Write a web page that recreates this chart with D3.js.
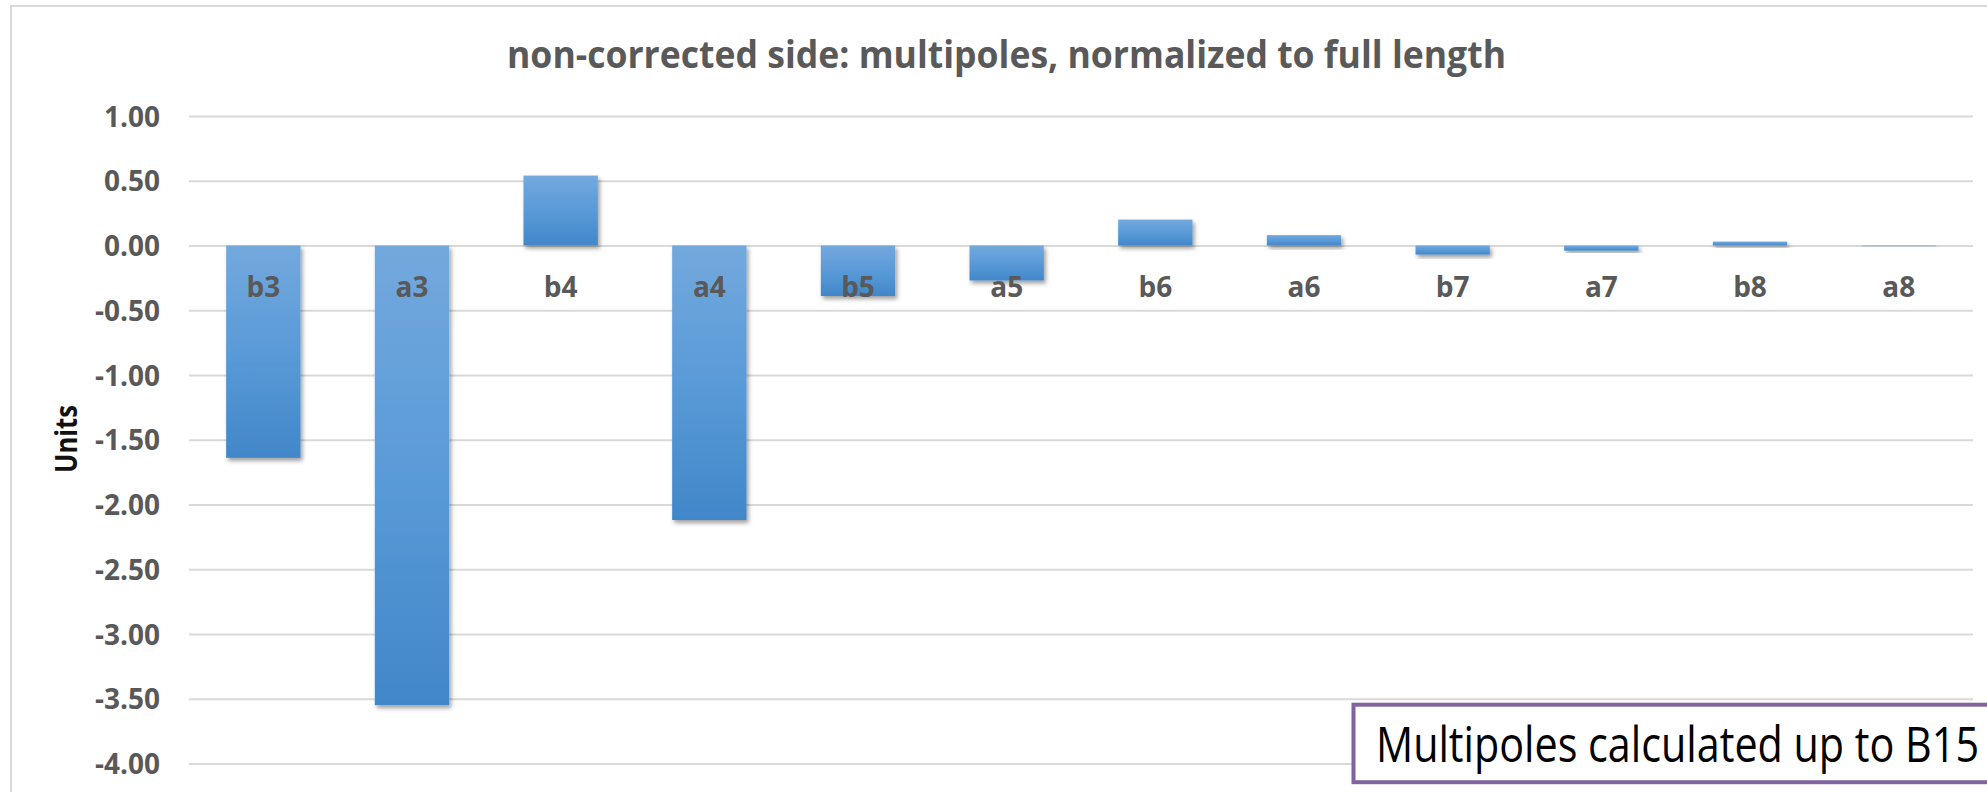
<!DOCTYPE html>
<html>
<head>
<meta charset="utf-8">
<script src="https://cdn.jsdelivr.net/npm/d3@7/dist/d3.min.js"></script>
<style>
  html, body { margin: 0; padding: 0; background: #ffffff; }
  svg { display: block; }
</style>
</head>
<body>
<svg id="chart" width="1987" height="792"></svg>
<script>
// Multipole coefficients (units), non-corrected side
const categories = ["b3", "a3", "b4", "a4", "b5", "a5", "b6", "a6", "b7", "a7", "b8", "a8"];
const values     = [-1.64, -3.55, 0.54, -2.12, -0.39, -0.27, 0.20, 0.08, -0.07, -0.04, 0.03, -0.005];
const yTicks     = [1.00, 0.50, 0.00, -0.50, -1.00, -1.50, -2.00, -2.50, -3.00, -3.50, -4.00];
const yDomain    = [-4, 1];

const titleText = "non-corrected side: multipoles, normalized to full length";
const yAxisTitle = "Units";
const noteText = "Multipoles calculated up to B15";

const W = 1987, H = 792;
const plot = { left: 189, right: 1973, top: 116, bottom: 763.4 };

const svg = d3.select("#chart");

const defs = svg.append("defs");
const grad = defs.append("linearGradient")
  .attr("id", "barFill").attr("x1", 0).attr("y1", 0).attr("x2", 0).attr("y2", 1);
grad.append("stop").attr("offset", "0%").attr("stop-color", "#73a9dd");
grad.append("stop").attr("offset", "50%").attr("stop-color", "#5a9ad8");
grad.append("stop").attr("offset", "100%").attr("stop-color", "#4187c9");

const shadow = defs.append("filter").attr("id", "barShadow")
  .attr("x", "-20%").attr("y", "-20%").attr("width", "140%").attr("height", "160%");
shadow.append("feDropShadow")
  .attr("dx", 2).attr("dy", 3).attr("stdDeviation", 2.2)
  .attr("flood-color", "#000").attr("flood-opacity", 0.38);

// chart frame
svg.append("path")
  .attr("d", `M11,${H + 5} L11,6 L${W + 5},6`)
  .attr("fill", "none").attr("stroke", "#d9d9d9").attr("stroke-width", 2);

const x = d3.scaleBand().domain(categories).range([plot.left, plot.right]).paddingInner(0.5).paddingOuter(0.25);
const y = d3.scaleLinear().domain(yDomain).range([plot.bottom, plot.top]);

// value axis with gridlines
const yAxis = d3.axisLeft(y)
  .tickValues(yTicks)
  .tickFormat(d => d.toFixed(2))
  .tickSizeInner(-(plot.right - plot.left))
  .tickSizeOuter(0)
  .tickPadding(29);

const gy = svg.append("g")
  .attr("transform", `translate(${plot.left},0)`)
  .call(yAxis);
gy.select(".domain").remove();
gy.selectAll(".tick line").attr("stroke", "#d9d9d9").attr("stroke-width", 2);
gy.selectAll(".tick text")
  .attr("fill", "#595959")
  .attr("font-family", "'Open Sans', sans-serif")
  .attr("font-weight", 700)
  .attr("font-size", 28)
  .attr("dy", "0.36em");

// bars
svg.append("g").selectAll("rect")
  .data(categories.map((c, i) => ({ c, v: values[i] })))
  .join("rect")
  .attr("x", d => x(d.c))
  .attr("width", x.bandwidth())
  .attr("y", d => Math.min(y(d.v), y(0)))
  .attr("height", d => Math.abs(y(d.v) - y(0)))
  .attr("fill", "url(#barFill)")
  .attr("filter", "url(#barShadow)");

// category axis labels, drawn over the bars
const xAxis = d3.axisBottom(x).tickSize(0).tickPadding(0);
const gx = svg.append("g")
  .attr("transform", `translate(0,${y(0)})`)
  .call(xAxis);
gx.select(".domain").remove();
gx.selectAll(".tick text")
  .attr("fill", "#595959")
  .attr("font-family", "'Open Sans', sans-serif")
  .attr("font-weight", 700)
  .attr("font-size", 28)
  .attr("y", 51.5)
  .attr("dy", 0);

// chart title
svg.append("text")
  .attr("x", 507).attr("y", 68)
  .attr("textLength", 999).attr("lengthAdjust", "spacingAndGlyphs")
  .attr("fill", "#595959")
  .attr("font-family", "'Open Sans', sans-serif")
  .attr("font-weight", 700)
  .attr("font-size", 37)
  .text(titleText);

// value axis title
svg.append("text")
  .attr("transform", "translate(77,439) rotate(-90)")
  .attr("text-anchor", "middle")
  .attr("textLength", 68).attr("lengthAdjust", "spacingAndGlyphs")
  .attr("fill", "#111")
  .attr("font-family", "'Open Sans', sans-serif")
  .attr("font-weight", 700)
  .attr("font-size", 30)
  .text(yAxisTitle);

// note box (narrow, tall lettering)
const note = svg.append("g");
note.append("rect")
  .attr("x", 1353.5).attr("y", 704.7)
  .attr("width", 700).attr("height", 77.5)
  .attr("fill", "#ffffff")
  .attr("stroke", "#8064a2").attr("stroke-width", 4);
note.append("text")
  .attr("transform", "translate(1376,762) scale(1,1.22)")
  .attr("textLength", 603).attr("lengthAdjust", "spacingAndGlyphs")
  .attr("fill", "#000")
  .attr("font-family", "'Open Sans', sans-serif")
  .attr("font-size", 41)
  .text(noteText);
</script>
</body>
</html>
